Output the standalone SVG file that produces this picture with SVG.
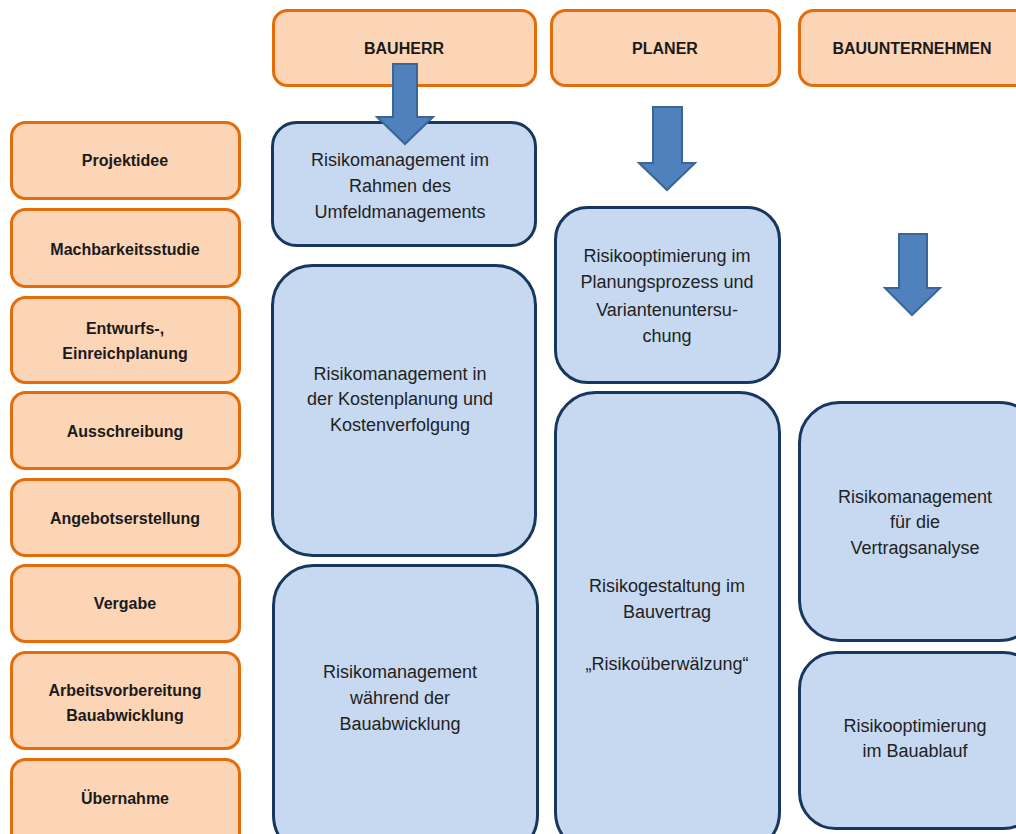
<svg xmlns="http://www.w3.org/2000/svg" width="1016" height="834" viewBox="0 0 1016 834">
<style>
.o{fill:#fbd5b5;stroke:#e46c0a;stroke-width:3}
.b{fill:#c6d9f1;stroke:#17375e;stroke-width:3}
.ot{font-family:"Liberation Sans",Arial,sans-serif;font-weight:bold;font-size:16px;fill:#1a1a1a;text-anchor:middle}
.bt{font-family:"Liberation Sans",Arial,sans-serif;font-size:18px;fill:#222;text-anchor:middle}
.ar{fill:#4f81bd;stroke:#3a6596;stroke-width:2}
</style>
<rect width="1016" height="834" fill="#fff"/>
<g id="h-bauherr"><rect class="o" x="273.5" y="10.5" width="262" height="75" rx="14"/><text class="ot" x="404" y="54">BAUHERR</text></g>
<g id="h-planer"><rect class="o" x="551.5" y="10.5" width="228" height="75" rx="14"/><text class="ot" x="665" y="54">PLANER</text></g>
<g id="h-bau"><rect class="o" x="799.5" y="10.5" width="230" height="75" rx="14"/><text class="ot" x="912" y="54">BAUUNTERNEHMEN</text></g>

<g id="p1"><rect class="o" x="11.5" y="122.5" width="228" height="76" rx="14"/><text class="ot" x="125" y="166">Projektidee</text></g>
<g id="p2"><rect class="o" x="11.5" y="209.5" width="228" height="77" rx="14"/><text class="ot" x="125" y="255">Machbarkeitsstudie</text></g>
<g id="p3"><rect class="o" x="11.5" y="297.5" width="228" height="85" rx="14"/><text class="ot" x="125" y="334">Entwurfs-,</text><text class="ot" x="125" y="359">Einreichplanung</text></g>
<g id="p4"><rect class="o" x="11.5" y="392.5" width="228" height="76" rx="14"/><text class="ot" x="125" y="437">Ausschreibung</text></g>
<g id="p5"><rect class="o" x="11.5" y="479.5" width="228" height="76" rx="14"/><text class="ot" x="125" y="524">Angebotserstellung</text></g>
<g id="p6"><rect class="o" x="11.5" y="565.5" width="228" height="76" rx="14"/><text class="ot" x="125" y="609">Vergabe</text></g>
<g id="p7"><rect class="o" x="11.5" y="652.5" width="228" height="96" rx="14"/><text class="ot" x="125" y="696">Arbeitsvorbereitung</text><text class="ot" x="125" y="721">Bauabwicklung</text></g>
<g id="p8"><rect class="o" x="11.5" y="759.5" width="228" height="90" rx="14"/><text class="ot" x="125" y="804">Übernahme</text></g>

<g id="bh1"><rect class="b" x="272.5" y="122.5" width="263" height="123" rx="24"/><text class="bt" x="400" y="166">Risikomanagement im</text><text class="bt" x="400" y="192">Rahmen des</text><text class="bt" x="400" y="218">Umfeldmanagements</text></g>
<g id="bh2"><rect class="b" x="272.5" y="265.5" width="263" height="290" rx="40"/><text class="bt" x="400" y="380">Risikomanagement in</text><text class="bt" x="400" y="405">der Kostenplanung und</text><text class="bt" x="400" y="431">Kostenverfolgung</text></g>
<g id="bh3"><rect class="b" x="273.5" y="565.5" width="264" height="290" rx="40"/><text class="bt" x="400" y="678">Risikomanagement</text><text class="bt" x="400" y="704">während der</text><text class="bt" x="400" y="730">Bauabwicklung</text></g>

<g id="pl1"><rect class="b" x="555.5" y="207.5" width="224" height="175" rx="32"/><text class="bt" x="667" y="262">Risikooptimierung im</text><text class="bt" x="667" y="288">Planungsprozess und</text><text class="bt" x="667" y="316">Variantenuntersu-</text><text class="bt" x="667" y="342">chung</text></g>
<g id="pl2"><rect class="b" x="555.5" y="392.5" width="224" height="460" rx="40"/><text class="bt" x="667" y="592">Risikogestaltung im</text><text class="bt" x="667" y="618">Bauvertrag</text><text class="bt" x="667" y="670">„Risikoüberwälzung“</text></g>

<g id="bu1"><rect class="b" x="799.5" y="402.5" width="240" height="238" rx="40"/><text class="bt" x="915" y="503">Risikomanagement</text><text class="bt" x="915" y="528">für die</text><text class="bt" x="915" y="554">Vertragsanalyse</text></g>
<g id="bu2"><rect class="b" x="799.5" y="652.5" width="240" height="176" rx="36"/><text class="bt" x="915" y="732">Risikooptimierung</text><text class="bt" x="915" y="757">im Bauablauf</text></g>

<g id="connectors">
<polygon class="ar" points="393,64 417,64 417,117 433,117 405,144 377,117 393,117"/>
<polygon class="ar" points="653,107 682,107 682,163 695,163 667,190 639,163 653,163"/>
<polygon class="ar" points="899,234 927,234 927,288 940,288 912,315 885,288 899,288"/>
</g>
</svg>
